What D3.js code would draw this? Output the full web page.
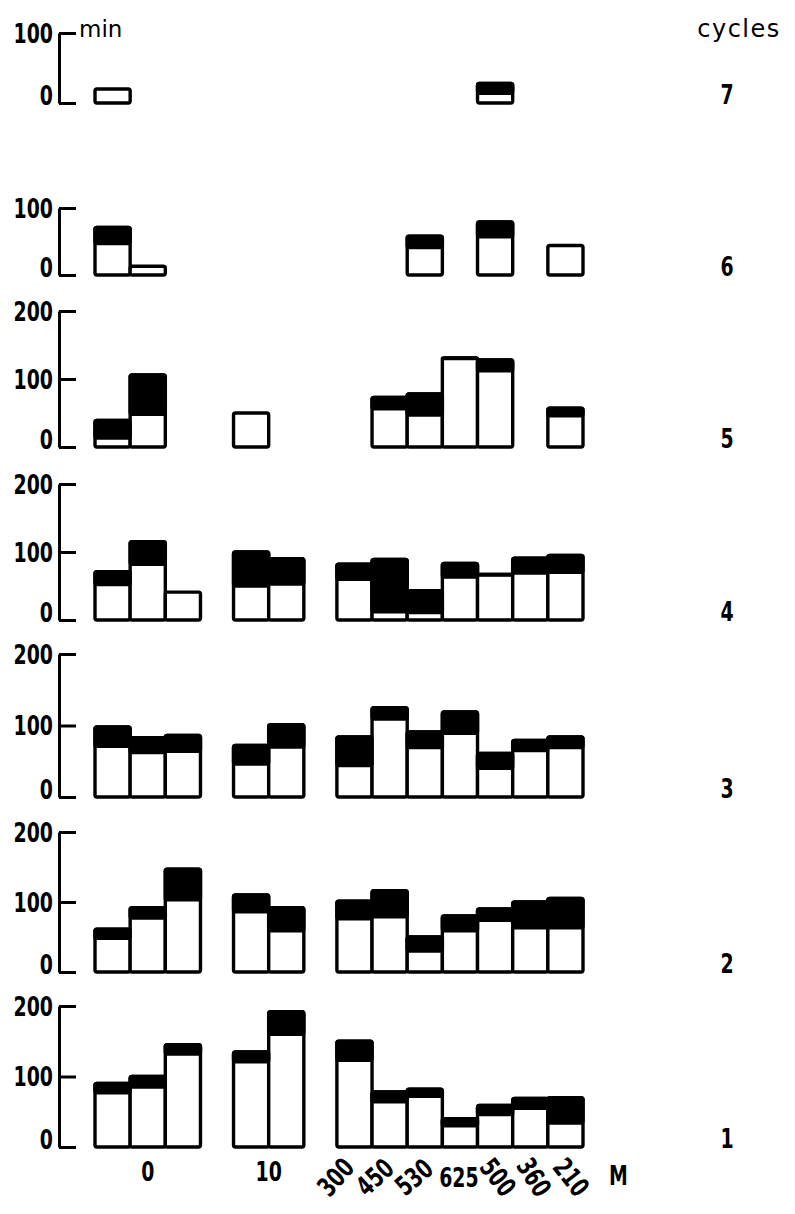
<!DOCTYPE html>
<html><head><meta charset="utf-8">
<script src="https://cdn.jsdelivr.net/npm/d3@7"></script>
<style>
body{margin:0;background:#fff;}
svg text{font-family:"DejaVu Sans",sans-serif;fill:#000;}
</style></head><body>
<svg id="chart" width="795" height="1214"></svg>
<script>
// ---------- DATA ----------
const groups = ["0", "10", "M"];
const barKeys = ["0a","0b","0c","10a","10b","300","450","530","625","500","360","210"];
const barGroup = ["0","0","0","10","10","M","M","M","M","M","M","M"];
const mLabels = ["300","450","530","625","500","360","210"];
const cycles = [1,2,3,4,5,6,7];
const yTicks200 = [0,100,200];
const yTicks100 = [0,100];
// white (lower) part and total height of each bar, min  (null = no bar)
const whiteCycle1 = [77,85,132, 121,160, 123,64,72,30,46,55,34];
const totalCycle1 = [90,100,145, 135,192, 150,78,82,40,59,69,70];
const whiteCycle2 = [48,77,103, 86,59, 76,79,30,59,74,63,63];
const totalCycle2 = [61,92,147, 110,92, 101,116,50,80,90,100,105];
const whiteCycle3 = [71,62,64, 46,70, 44,109,69,89,40,65,69];
const totalCycle3 = [98,83,86, 72,101, 84,125,91,119,61,79,84];
const whiteCycle4 = [52,82,41, 50,53, 60,12,11,63,66,69,70];
const totalCycle4 = [71,115,41, 100,90, 82,89,43,83,67,91,95];
const whiteCycle5 = [13,48,null, 50,null, null,56,47,130,112,null,46];
const totalCycle5 = [39,106,null, 50,null, null,73,78,131,128,null,57];
const whiteCycle6 = [47,13,null, null,null, null,null,41,null,57,null,44];
const totalCycle6 = [71,13,null, null,null, null,null,58,null,79,null,44];
const whiteCycle7 = [20,null,null, null,null, null,null,null,null,14,null,null];
const totalCycle7 = [20,null,null, null,null, null,null,null,null,28,null,null];

const whiteByCycle = {1:whiteCycle1,2:whiteCycle2,3:whiteCycle3,4:whiteCycle4,5:whiteCycle5,6:whiteCycle6,7:whiteCycle7};
const totalByCycle = {1:totalCycle1,2:totalCycle2,3:totalCycle3,4:totalCycle4,5:totalCycle5,6:totalCycle6,7:totalCycle7};
const ticksByCycle = {1:yTicks200,2:yTicks200,3:yTicks200,4:yTicks200,5:yTicks200,6:yTicks100,7:yTicks100};

// ---------- LAYOUT ----------
const panelBase = {1:1147,2:972,3:797,4:620,5:447,6:275,7:103};
const panelTop  = {1:1006,2:832,3:654,4:484,5:311,6:208,7:33};
const axisX = 59, tickLen = 17, xLeft = 95, xRight = 583, gapUnits = 0.94;
const cycleLabelX = 727;
const mLabelAngle = [-48,-42,-40,0,52,58,52];
const mLabelDx = [-19,-15,-11,-1,3,4,6];
const FS = 27, SX = 0.7;

const svg = d3.select("#chart");

// condensed text helper
function ctext(parent, x, y, str, o = {}) {
  const g = parent.append("g")
    .attr("transform", `translate(${x},${y}) rotate(${o.rot || 0}) scale(${o.sx || SX},1)`);
  const t = g.append("text").attr("text-anchor", o.anchor || "middle")
    .attr("font-size", o.size || FS).attr("font-weight", o.weight || "bold").text(str);
  if (o.dy) t.attr("dy", o.dy);
  return t;
}

// x scale in bar units
const totalUnits = barKeys.length + gapUnits*(groups.length-1);
const xu = d3.scaleLinear().domain([0,totalUnits]).range([xLeft,xRight]);
const unitStart = {};
{ let u = 0;
  groups.forEach(g => {
    barKeys.forEach((k,i) => { if (barGroup[i] === g) { unitStart[k] = u; u += 1; } });
    u += gapUnits;
  });
}
const bw = xu(1) - xu(0);
const bx = k => xu(unitStart[k]);

cycles.forEach(c => {
  const ticks = ticksByCycle[c];
  const y = d3.scaleLinear().domain([0, d3.max(ticks)]).range([panelBase[c], panelTop[c]]);
  const g = svg.append("g");

  // axis (ticks point right, labels drawn condensed on the left)
  const ax = g.append("g").attr("transform", `translate(${axisX},0)`)
    .call(d3.axisLeft(y).tickValues(ticks).tickSizeInner(-tickLen).tickSizeOuter(0).tickFormat(""));
  ax.select(".domain").attr("stroke","#000").attr("stroke-width",3);
  ax.selectAll(".tick line").attr("stroke","#000").attr("stroke-width",3);
  ticks.forEach(t => {
    ctext(g, axisX - 6, y(t), String(t), {anchor:"end", dy: t === 0 ? "0.08em" : "0.36em"});
  });

  // bars
  const rows = barKeys.map((k,i) => ({key:k, white: whiteByCycle[c][i], total: totalByCycle[c][i]}))
    .filter(d => d.total != null);
  g.selectAll("rect.outer").data(rows).join("rect").attr("class","outer")
    .attr("x", d => bx(d.key)).attr("width", bw)
    .attr("y", d => y(d.total)).attr("height", d => y(0) - y(d.total))
    .attr("rx",2).attr("fill","#fff").attr("stroke","#000").attr("stroke-width",3.4);
  g.selectAll("rect.black").data(rows.filter(d => d.total > d.white)).join("rect").attr("class","black")
    .attr("x", d => bx(d.key)).attr("width", bw)
    .attr("y", d => y(d.total)).attr("height", d => y(d.white) - y(d.total))
    .attr("rx",2).attr("fill","#000").attr("stroke","#000").attr("stroke-width",3.4);

  // cycle label
  ctext(g, cycleLabelX, panelBase[c] + 1, String(c));
});

// unit & header
svg.append("text").attr("x", 79).attr("y", 37).attr("font-size", 23).text("min");
svg.append("text").attr("x", 739).attr("y", 37).attr("font-size", 24).attr("text-anchor","middle")
  .attr("letter-spacing", 1.5).text("cycles");

// x labels
const base1 = panelBase[1];
["0","10"].forEach(gk => {
  const keys = barKeys.filter((k,i) => barGroup[i] === gk);
  const cx = (bx(keys[0]) + bx(keys[keys.length-1]) + bw) / 2;
  ctext(svg, cx, base1 + 34, gk);
});
mLabels.forEach((lab,i) => {
  const cx = bx(lab) + bw/2 + mLabelDx[i];
  ctext(svg, cx, base1 + 30, lab, {rot: mLabelAngle[i], dy: "0.36em"});
});
ctext(svg, xRight + 26, base1 + 38, "M", {anchor:"start"});
</script>
</body></html>
